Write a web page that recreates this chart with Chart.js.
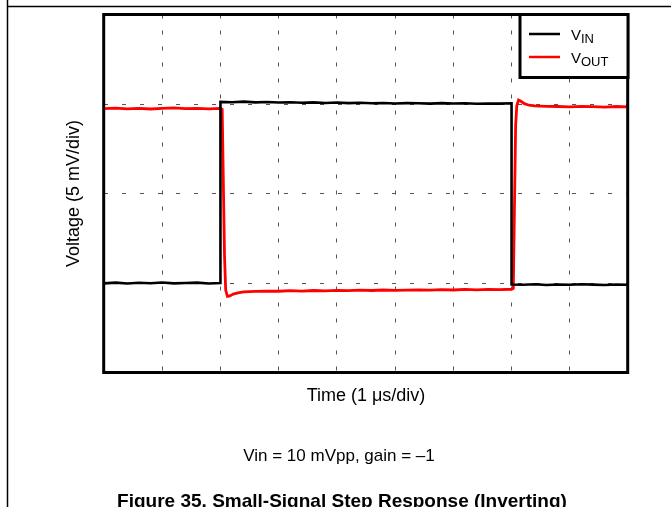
<!DOCTYPE html>
<html><head><meta charset="utf-8">
<script src="https://cdn.jsdelivr.net/npm/chart.js@4.4.1/dist/chart.umd.min.js"></script>
<style>
html,body{margin:0;padding:0;background:#fff;overflow:hidden}
#wrap{position:relative;width:671px;height:507px}
canvas{display:block}
</style></head><body>
<div id="wrap"><canvas id="c" width="671" height="507"></canvas></div>
<script>
// ---- data (time in µs, voltage in mV) ----
const vinTime = [0,0.2,0.4,0.6,0.8,1.0,1.2,1.4,1.6,1.8,2.0,
  2.0,2.2,2.4,2.6,2.8,3.0,3.2,3.4,3.6,3.8,4.0,4.2,4.4,4.6,4.8,5.0,5.2,5.4,5.6,5.8,6.0,6.2,6.4,6.6,6.8,7.0,
  7.0,7.2,7.4,7.6,7.8,8.0,8.2,8.4,8.6,8.8,9.0];
const vinValues = [-5.02,-4.98,-5.03,-4.99,-5.01,-4.97,-5.02,-5.00,-4.98,-5.03,-5.00,
  5.12,5.10,5.13,5.09,5.11,5.08,5.10,5.07,5.09,5.06,5.08,5.05,5.07,5.04,5.06,5.03,5.05,5.04,5.02,5.05,5.03,5.04,5.01,5.03,5.02,5.04,
  -5.08,-5.10,-5.07,-5.11,-5.08,-5.10,-5.07,-5.09,-5.11,-5.08,-5.10];
const voutTime = [0,0.2,0.4,0.6,0.8,1.0,1.2,1.4,1.6,1.8,2.0,
  2.03,2.07,2.09,2.12,2.16,2.22,2.3,2.4,2.6,2.8,3.0,3.2,3.4,3.6,3.8,4.0,4.2,4.4,4.6,4.8,5.0,5.2,5.4,5.6,5.8,6.0,6.2,6.4,6.6,6.8,7.0,
  7.03,7.07,7.09,7.12,7.16,7.22,7.3,7.4,7.6,7.8,8.0,8.2,8.4,8.6,8.8,9.0];
const voutValues = [4.74,4.77,4.73,4.76,4.72,4.75,4.78,4.74,4.76,4.73,4.75,
  4.70,-3.5,-5.4,-5.75,-5.72,-5.62,-5.55,-5.50,-5.47,-5.45,-5.46,-5.43,-5.45,-5.42,-5.44,-5.41,-5.43,-5.40,-5.42,-5.39,-5.41,-5.40,-5.38,-5.40,-5.37,-5.39,-5.36,-5.38,-5.36,-5.37,-5.35,
  -5.30,3.8,4.9,5.22,5.15,5.02,4.93,4.89,4.87,4.86,4.84,4.87,4.85,4.83,4.86,4.84];
const xTicks = [0,1,2,3,4,5,6,7,8,9];
const yTicks = [-10,-5,0,5,10];
const seriesNames = ['V|IN','V|OUT'];
const seriesColors = ['#000000','#ff0000'];

function pts(t, v){ return t.map((x,i)=>({x:x, y:v[i]})); }

const FONT = '"Liberation Sans", Arial, Helvetica, sans-serif';

const decor = {
  id:'decor',
  afterDraw(chart){
    const ctx = chart.ctx, a = chart.chartArea;
    ctx.save();
    // outer page rules
    ctx.strokeStyle='#000'; ctx.lineWidth=1.5;
    ctx.beginPath(); ctx.moveTo(7,6.5); ctx.lineTo(671,6.5); ctx.stroke();
    ctx.beginPath(); ctx.moveTo(7.5,0); ctx.lineTo(7.5,507); ctx.stroke();
    // plot frame
    ctx.lineWidth=3;
    ctx.strokeRect(a.left-0.3, a.top, a.right-a.left, a.bottom-a.top);
    // legend box
    const lx = 520, ly = a.top, lr = a.right, lb = 77.5;
    ctx.fillStyle='#fff';
    ctx.fillRect(lx, ly, lr-lx, lb-ly);
    ctx.strokeRect(lx, ly, lr-lx, lb-ly);
    const rows=[34,57];
    seriesNames.forEach((n,i)=>{
      ctx.strokeStyle=seriesColors[i]; ctx.lineWidth=2.5;
      ctx.beginPath(); ctx.moveTo(529,rows[i]); ctx.lineTo(560,rows[i]); ctx.stroke();
      const [main,sub]=n.split('|');
      ctx.fillStyle='#000'; ctx.textAlign='left'; ctx.textBaseline='alphabetic';
      ctx.font='15px '+FONT;
      ctx.fillText(main,571,rows[i]+5.5);
      const w=ctx.measureText(main).width;
      ctx.font='13px '+FONT;
      ctx.fillText(sub,571+w,rows[i]+8.5);
    });
    // axis titles
    ctx.fillStyle='#000';
    ctx.font='18px '+FONT;
    ctx.textAlign='center'; ctx.textBaseline='alphabetic';
    ctx.fillText('Time (1 \u03bcs/div)', (a.left+a.right)/2, 401);
    ctx.save();
    ctx.translate(79,(a.top+a.bottom)/2);
    ctx.rotate(-Math.PI/2);
    ctx.fillText('Voltage (5 mV/div)',0,0);
    ctx.restore();
    // captions
    ctx.font='17px '+FONT;
    ctx.fillText('Vin = 10 mVpp, gain = \u20131', 339, 461);
    ctx.font='bold 19px '+FONT;
    ctx.fillText('Figure 35. Small-Signal Step Response (Inverting)', 342, 507);
    ctx.restore();
  }
};

new Chart(document.getElementById('c'), {
  type:'line',
  data:{
    datasets:[
      {label:'VIN', data:pts(vinTime,vinValues), borderColor:seriesColors[0], borderWidth:2.6, pointRadius:0, tension:0},
      {label:'VOUT', data:pts(voutTime,voutValues), borderColor:seriesColors[1], borderWidth:2.8, pointRadius:0, tension:0}
    ]
  },
  options:{
    responsive:false, animation:false, devicePixelRatio:1,
    layout:{padding:{left:104,right:43,top:14.5,bottom:134.5}},
    plugins:{legend:{display:false}, tooltip:{enabled:false}},
    scales:{
      x:{type:'linear', min:0, max:9,
        afterBuildTicks(s){ s.ticks = xTicks.map(v=>({value:v})); },
        ticks:{display:false},
        grid:{color:'#555', lineWidth:1, drawTicks:false},
        border:{display:false, dash:[4,12]}},
      y:{type:'linear', min:-10, max:10,
        afterBuildTicks(s){ s.ticks = yTicks.map(v=>({value:v})); },
        ticks:{display:false},
        grid:{color:'#555', lineWidth:1, drawTicks:false},
        border:{display:false, dash:[4,14]}}
    }
  },
  plugins:[decor]
});
</script>
</body></html>
